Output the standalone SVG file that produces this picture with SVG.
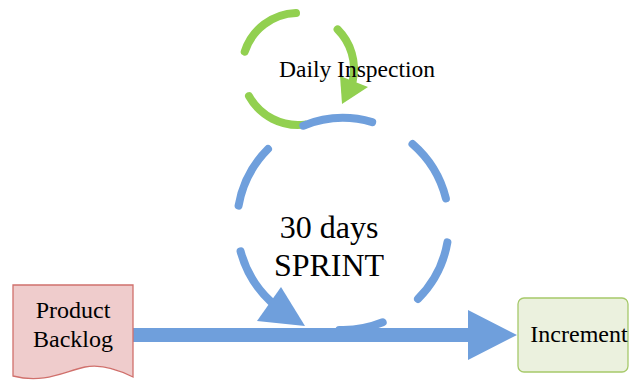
<svg xmlns="http://www.w3.org/2000/svg" width="631" height="383" viewBox="0 0 631 383">
<style>
.lbl{font-family:"Liberation Serif","Times New Roman",serif;fill:#000;text-anchor:middle}
.blue{fill:none;stroke:#6F9FDC;stroke-width:8;stroke-linecap:round}
.green{fill:none;stroke:#92D050;stroke-width:8;stroke-linecap:round}
</style>
<rect width="631" height="383" fill="#fff"/>
<g id="daily-inspection">
<path class="green" d="M244.7,51.7 A56,56 0 0 1 296,13"/>
<path class="green" d="M249,96.1 A56,56 0 0 0 304.8,124.6"/>
<path class="green" d="M337.6,29.4 A56,56 0 0 1 352.8,80.6"/>
<polygon points="340,76 368,87 342,104" fill="#92D050"/>
</g>
<g id="sprint">
<path class="blue" d="M303.3,125.7 A106,106 0 0 1 372.2,122.1"/>
<path class="blue" d="M412.5,144 A106,106 0 0 1 445.9,198.4"/>
<path class="blue" d="M447.4,242.4 A106,106 0 0 1 418,298.9"/>
<path class="blue" d="M382.7,322.3 A106,106 0 0 1 339.3,329.9"/>
<path class="blue" d="M238.6,205.6 A106,106 0 0 1 268,149"/>
<path class="blue" d="M240.6,251.4 A106,106 0 0 0 270.7,301.5"/>
<polygon points="257,321 281,287 305,326" fill="#6F9FDC"/>
<text class="lbl" x="329" y="238" font-size="32">30 days</text>
<text class="lbl" x="329" y="276" font-size="32">SPRINT</text>
</g>
<g id="daily-label">
<text class="lbl" x="357" y="77" font-size="23.5">Daily Inspection</text>
</g>
<g id="connectors">
<path d="M133,328 H468 V310 L517,335 L468,360 V342 H133 Z" fill="#6F9FDC"/>
</g>
<g id="product-backlog">
<path d="M13,285 H133 V377 C115,368 100,364 85,367 C65,371 45,384 13,376 Z" fill="#EFCCCC" stroke="#D0706C" stroke-width="1.3"/>
<text class="lbl" x="73" y="318" font-size="24">Product</text>
<text class="lbl" x="73" y="347" font-size="24">Backlog</text>
</g>
<g id="increment">
<rect x="518" y="298" width="110" height="74" rx="6" fill="#EBF1DE" stroke="#A6C96A" stroke-width="1.3"/>
<text class="lbl" x="579" y="342" font-size="24">Increment</text>
</g>
</svg>
